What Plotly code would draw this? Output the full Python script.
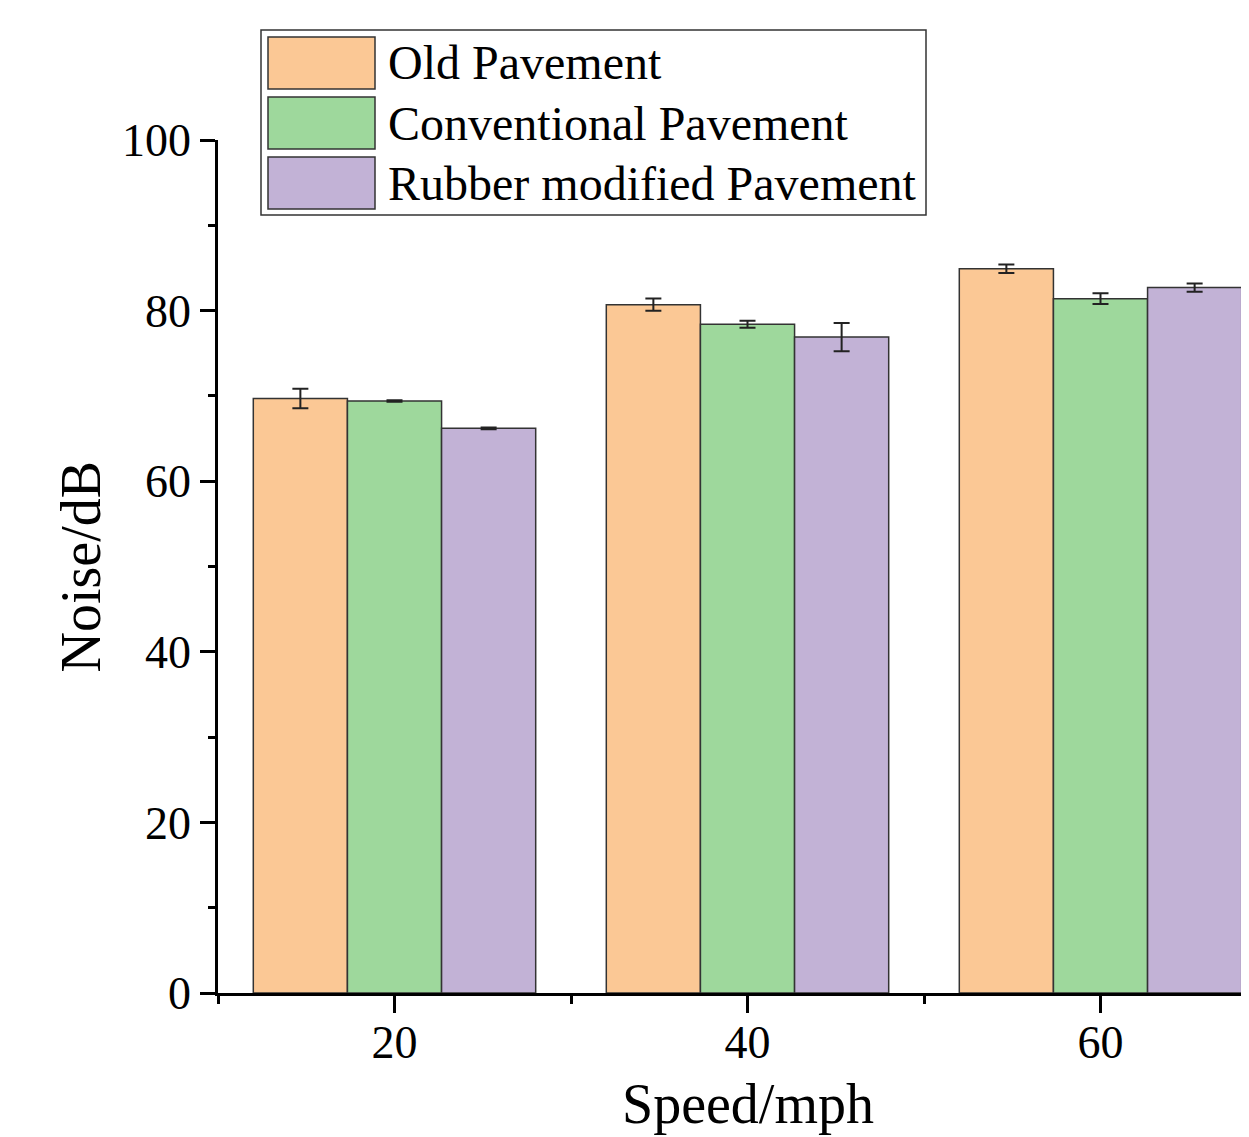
import plotly.graph_objects as go

speeds = [20, 40, 60]
series_names = ["Old Pavement", "Conventional Pavement", "Rubber modified Pavement"]
old_vals = [69.7, 80.7, 84.9]
old_err = [1.15, 0.73, 0.49]
conv_vals = [69.4, 78.4, 81.4]
conv_err = [0.1, 0.41, 0.64]
rubber_vals = [66.2, 76.9, 82.7]
rubber_err = [0.1, 1.66, 0.49]
colors = ["#FBC895", "#9ED89C", "#C2B2D6"]
y_ticks = [0, 20, 40, 60, 80, 100]

FONT = "Liberation Serif"
OFF = 8  # page body margin
PAGE_W, PAGE_H = 1249, 1137
W, H = PAGE_W - OFF, PAGE_H - OFF
# plot area in page pixels: x 218..1249, y 140..993
L = 218 - OFF
T = 140 - OFF
R = 0
B = H - (993 - OFF)
pw = W - L - R
ph = H - T - B

def px_x(px):  # page px -> paper
    return (px - OFF - L) / pw

def px_y(py):
    return (H - B - (py - OFF)) / ph

fig = go.Figure()
for name, vals, errs, col in zip(series_names, [old_vals, conv_vals, rubber_vals],
                                 [old_err, conv_err, rubber_err], colors):
    fig.add_trace(go.Bar(
        x=speeds, y=vals, name=name, showlegend=False,
        marker=dict(color=col, line=dict(color="#333333", width=1.5)),
        error_y=dict(type="data", array=errs, visible=True, color="#222222",
                     thickness=2, width=8),
    ))

# manual legend (large swatches like the original)
shapes = [dict(type="rect", xref="paper", yref="paper",
               x0=px_x(261), x1=px_x(926), y0=px_y(215), y1=px_y(30),
               line=dict(color="#333333", width=1.5), fillcolor="white", layer="above")]
annotations = []
for i, (name, col) in enumerate(zip(series_names, colors)):
    top = 37 + 60 * i
    shapes.append(dict(type="rect", xref="paper", yref="paper",
                       x0=px_x(268), x1=px_x(375), y0=px_y(top + 52), y1=px_y(top),
                       line=dict(color="#333333", width=1.5), fillcolor=col, layer="above"))
    annotations.append(dict(xref="paper", yref="paper", x=px_x(386), y=px_y(top + 26),
                            xanchor="left", yanchor="middle", showarrow=False,
                            text=name, font=dict(family=FONT, size=48, color="black")))

annotations.append(dict(xref="x", yref="paper", x=40, y=px_y(1104), xanchor="center",
                        yanchor="middle", showarrow=False, text="Speed/mph",
                        font=dict(family=FONT, size=56, color="black")))
annotations.append(dict(xref="paper", yref="paper", x=px_x(80), y=0.5, xanchor="center",
                        yanchor="middle", showarrow=False, text="Noise/dB", textangle=-90,
                        font=dict(family=FONT, size=56, color="black")))

fig.update_layout(
    width=W, height=H,
    margin=dict(l=L, r=R, t=T, b=B, pad=0),
    plot_bgcolor="white", paper_bgcolor="white",
    barmode="group", bargap=0.2, bargroupgap=0,
    shapes=shapes, annotations=annotations,
    font=dict(family=FONT, color="black"),
)
fig.update_xaxes(
    range=[10, 10 + pw / 17.65], tickmode="linear", tick0=20, dtick=20,
    ticks="outside", ticklen=17, tickwidth=2.5, tickcolor="black",
    showline=True, linewidth=2.5, linecolor="black", showgrid=False, zeroline=False,
    tickfont=dict(family=FONT, size=46, color="black"), ticklabelstandoff=-10,
    minor=dict(ticks="outside", ticklen=8, tickwidth=2.5, tickcolor="black",
               tick0=10, dtick=10, showgrid=False),
)
fig.update_yaxes(
    range=[0, 100], tickmode="array", tickvals=y_ticks,
    ticks="outside", ticklen=15, tickwidth=2.5, tickcolor="black",
    showline=True, linewidth=2.5, linecolor="black", showgrid=False, zeroline=False,
    tickfont=dict(family=FONT, size=46, color="black"),
    minor=dict(ticks="outside", ticklen=7, tickwidth=2.5, tickcolor="black",
               tick0=10, dtick=20, showgrid=False),
)

fig.write_html("out.html")
